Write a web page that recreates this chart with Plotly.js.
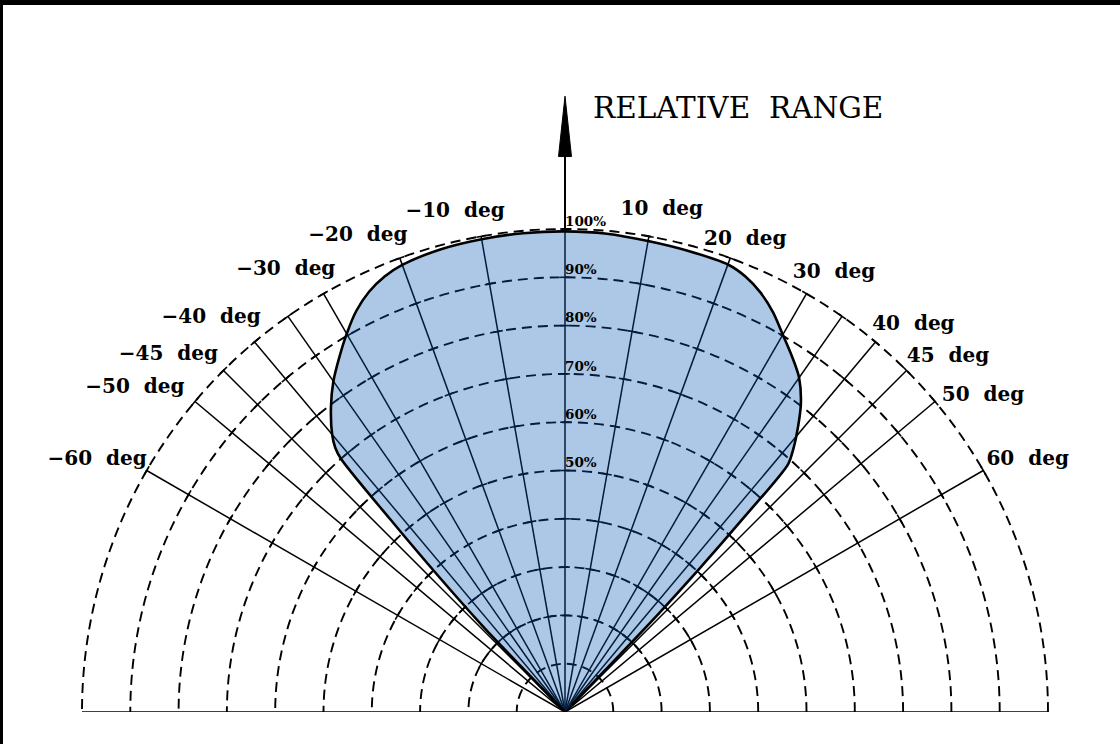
<!DOCTYPE html>
<html><head><meta charset="utf-8">
<script src="https://cdn.plot.ly/plotly-3.0.1.min.js"></script>
<style>html,body{margin:0;padding:0;background:#fff}#chart{width:1120px;height:744px}</style>
</head><body><div id="chart"></div>
<script>
// Spoke angles (deg from boresight); +-90 form the base line
const spokeAngles = [-90, -60, -50, -45, -40, -35, -30, -20, -10, 0, 10, 20, 30, 35, 40, 45, 50, 60, 90];
// Labelled spokes and their labels
const NB = '\u00a0\u00a0';
const labelAngles = [-60, -50, -45, -40, -30, -20, -10, 10, 20, 30, 40, 45, 50, 60];
const angleLabels = labelAngles.map(a => (a < 0 ? '−' + (-a) : '' + a) + NB + 'deg');
// label placement (polar position of each label's centre)
const labelPosTheta = [-61.7, -53.0, -48.0, -41.9, -32.3, -23.5, -12.4, 10.9, 20.9, 31.5, 42.0, 47.2, 52.9, 61.4];
const labelPosR = [110.0, 111.5, 110.5, 109.7, 108.2, 107.5, 106.0, 105.9, 104.6, 106.6, 107.8, 108.1, 108.5, 109.1];
// Range rings (%)
const ringValues = [10, 20, 30, 40, 50, 60, 70, 80, 90, 100];
const ringLabelValues = [50, 60, 70, 80, 90, 100];
const ringLabelAngles = [0, 0, 0, 0, 0, 0];
const ringLabels = ['50%', '60%', '70%', '80%', '90%', '100%'];
// Beam pattern outline (angle deg, relative range %), from the origin round to the origin
const beamAngle = [0, -44.0, -43.8, -43.0, -42.2, -41.5, -41.0, -40, -37.5, -35, -32.5, -30, -27.5, -25, -22.5, -20, -15, -10, -5,
  0, 5, 10, 15, 20, 22.5, 25, 27.5, 30, 32.5, 35, 37.5, 40, 41, 42, 42.6, 43.2, 43.6, 43.8, 44];
const beamRange = [0, 10, 24, 38, 54, 70, 72.5, 75, 79.6, 83.6, 87.0, 90.4, 93.6, 96.0, 97.6, 98.5, 99.2, 99.4, 99.5,
  99.5, 99.4, 99, 98.8, 98.6, 97.6, 95.8, 93.3, 90.2, 87.4, 84.5, 80.2, 74.5, 72, 69, 55, 40, 28, 12, 2];
const axisTitle = 'RELATIVE' + NB + 'RANGE';

// page geometry (px)
const W = 1120, H = 744, CX = 565, CY = 712, R = 483, RMAX = 112.5;
const RW = R * RMAX / 100;
const px = x => x / W, py = y => 1 - y / H;
const rY = r => CY - R * r / 100;   // vertical position of a radius along the 0-deg axis

// spokes as one broken line trace
const spokeR = [], spokeT = [];
spokeAngles.forEach(a => { spokeR.push(0, 100, null); spokeT.push(a, a, null); });
// short ring dashes centred on every spoke/ring crossing (base line and innermost ring excluded)
const crossR = [], crossT = [];
spokeAngles.filter(a => Math.abs(a) < 90).forEach(a => ringValues.filter(r => r > 10).forEach(r => { crossR.push(r); crossT.push(a); }));

const spokes = {
  type: 'scatterpolar', mode: 'lines', r: spokeR, theta: spokeT, connectgaps: false,
  line: {color: '#000', width: 1.5}, hoverinfo: 'skip', showlegend: false
};
const crosses = {
  type: 'scatterpolar', mode: 'markers', r: crossR, theta: crossT, cliponaxis: false,
  marker: {symbol: 'line-ew', size: 7, angle: crossT, line: {color: '#000', width: 1.6}},
  hoverinfo: 'skip', showlegend: false
};
const beam = {
  type: 'scatterpolar', mode: 'lines', r: beamRange, theta: beamAngle,
  fill: 'toself', fillcolor: 'rgba(3,88,179,0.33)',
  line: {color: '#000', width: 2.6, shape: 'spline', smoothing: 0.8}, hoverinfo: 'skip', showlegend: false
};
const ringText = {
  type: 'scatterpolar', mode: 'text', r: ringLabelValues, theta: ringLabelAngles, text: ringLabels,
  textposition: 'top right', cliponaxis: false,
  textfont: {family: 'DejaVu Serif', size: 13.5, weight: 'bold', color: '#000'}, hoverinfo: 'skip', showlegend: false
};
const angleText = {
  type: 'scatterpolar', mode: 'text', r: labelPosR, theta: labelPosTheta, text: angleLabels,
  textposition: 'middle center', cliponaxis: false,
  textfont: {family: 'DejaVu Serif', size: 20, weight: 'bold', color: '#000'}, hoverinfo: 'skip', showlegend: false
};

const layout = {
  width: W, height: H, margin: {l: 0, r: 0, t: 0, b: 0},
  paper_bgcolor: '#fff', showlegend: false,
  polar: {
    domain: {x: [px(CX - RW), px(CX + RW)], y: [(H - CY) / H, (H - CY + RW) / H]},
    sector: [0, 180], bgcolor: 'rgba(0,0,0,0)',
    angularaxis: {
      rotation: 90, direction: 'clockwise', showticklabels: false,
      showline: false, ticks: '', showgrid: false
    },
    radialaxis: {
      range: [0, RMAX], tickmode: 'array', tickvals: ringValues, showticklabels: false, ticks: '',
      showline: false, showgrid: true, gridcolor: '#000', gridwidth: 1.9, griddash: '10px,6px', angle: 90
    }
  },
  shapes: [
    {type: 'line', xref: 'paper', yref: 'paper', x0: px(CX), x1: px(CX), y0: py(rY(100)), y1: py(rY(116)),
      line: {color: '#000', width: 2}},
    {type: 'path', xref: 'paper', yref: 'paper', fillcolor: '#000', line: {color: '#000', width: 1},
      path: `M ${px(CX)} ${py(rY(127.5))} L ${px(CX - 6.5)} ${py(rY(115))} L ${px(CX + 6.5)} ${py(rY(115))} Z`},
    {type: 'line', xref: 'paper', yref: 'paper', x0: 0, x1: 1, y0: py(2.5), y1: py(2.5), line: {color: '#000', width: 5}},
    {type: 'line', xref: 'paper', yref: 'paper', x0: px(1.5), x1: px(1.5), y0: 0, y1: 1, line: {color: '#000', width: 3}}
  ],
  annotations: [
    {xref: 'paper', yref: 'paper', x: px(591), y: py(108), xanchor: 'left', yanchor: 'middle', showarrow: false,
      text: axisTitle, font: {family: 'DejaVu Serif', size: 29.5, color: '#000'}}
  ]
};
Plotly.newPlot('chart', [spokes, crosses, beam, ringText, angleText], layout, {displayModeBar: false, staticPlot: true});
</script></body></html>
